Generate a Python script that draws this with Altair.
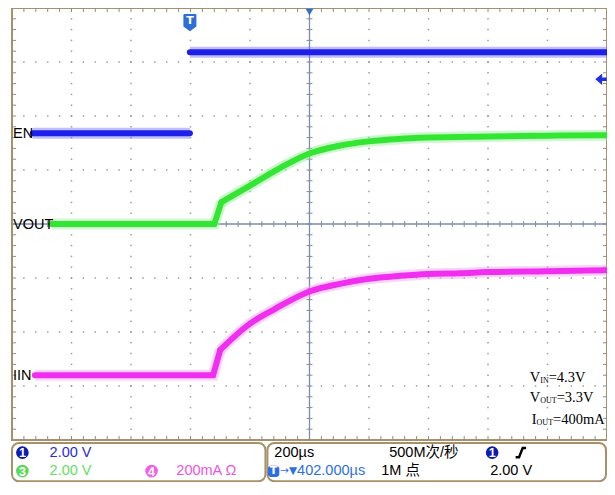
import altair as alt
import pandas as pd

T_PER_DIV = 200.0      # µs per division
T_CENTER = 402.0       # µs from trigger to screen centre
T_MIN = T_CENTER - 5 * T_PER_DIV
T_MAX = T_CENTER + 5 * T_PER_DIV

# channel 1 : EN (2.00 V/div)
EN_VDIV, EN_POS = 2.0, 1.68
en_low_t = [-528, 0]
en_low_v = [0.0, 0.0]
en_high_t = [0, 1402]
en_high_v = [3.0, 3.0]

# channel 3 : VOUT (2.00 V/div) - flat part up to the kink, then the soft-start curve
VO_VDIV, VO_POS = 2.0, 0.0
vout_t = [-465, 82, 106, 202, 302, 402, 502, 602, 702, 801, 1001, 1201, 1402]
vout_v = [0.0, 0.0, 0.81, 1.42, 2.07, 2.61, 2.90, 3.06, 3.15, 3.20, 3.24, 3.27, 3.29]
VO_KINK = 2   # index of the kink point

# channel 4 : IIN (200 mA/div)
II_VDIV, II_POS = 200.0, -2.80
iin_t = [-521, 78, 102, 202, 285, 402, 508, 602, 708, 801, 908, 1001, 1201, 1402]
iin_ma = [0, 0, 94, 191, 245, 310, 339, 357, 368, 375, 378, 382, 385, 389]
II_KINK = 2

trace_names = ["EN", "VOUT", "IIN"]
trace_pos = [EN_POS, VO_POS, II_POS]

# ---------------- styling ----------------
SANS = "Liberation Sans, Arial, Noto Sans CJK SC, sans-serif"
SERIF = "Liberation Serif, DejaVu Serif, serif"
GRID = "#8c8c8c"
AXIS = "#7b8bab"
BORDER = "#a8916a"
BLUE, BLUE_H = "#1f1fea", "#7070ff"
GREEN, GREEN_H = "#33e633", "#94f094"
MAG, MAG_H = "#f02ef0", "#f7a0f7"

W, H = 595, 432
SX = W / 601.0          # horizontal factor versus the reference
SY = H / 445.0          # vertical factor versus the reference


def px(x):   # reference page x -> view x
    return (x - 12) * SX


def py(y):   # reference page y -> view y
    return (y - 3) * SY


xs = alt.Scale(domain=[T_MIN, T_MAX], nice=False, zero=False)
ys = alt.Scale(domain=[-4, 4], nice=False, zero=False)
X = alt.X("t:Q", scale=xs, axis=None)
Y = alt.Y("d:Q", scale=ys, axis=None)
X2 = alt.X2("t2:Q")
Y2 = alt.Y2("d2:Q")

layers = []

# grid dots
dots = []
for i in range(1, 10):
    if i == 5:
        continue
    tx = T_MIN + i * T_PER_DIV
    for j in range(1, 40):
        dots.append({"t": tx, "d": -4 + j * 0.2})
for k in range(1, 8):
    yv = -4 + k
    if yv == 0:
        continue
    for m in range(1, 50):
        dots.append({"t": T_MIN + m * T_PER_DIV / 5, "d": yv})
layers.append(alt.Chart(pd.DataFrame(dots)).mark_square(size=2.2, color=GRID, opacity=0.85).encode(x=X, y=Y))

# tick marks on the border and on the centre cross
px_t = T_PER_DIV / (W / 10)
px_d = 1 / (H / 8)
ticks = []
for m in range(1, 50):
    tx = T_MIN + m * T_PER_DIV / 5
    ticks.append({"t": tx, "t2": tx, "d": -3 * px_d, "d2": 3 * px_d})
    ticks.append({"t": tx, "t2": tx, "d": 4, "d2": 4 - 4 * px_d})
    ticks.append({"t": tx, "t2": tx, "d": -4, "d2": -4 + 4 * px_d})
for j in range(1, 40):
    yv = -4 + j * 0.2
    ticks.append({"t": T_CENTER - 3 * px_t, "t2": T_CENTER + 3 * px_t, "d": yv, "d2": yv})
    ticks.append({"t": T_MIN, "t2": T_MIN + 4 * px_t, "d": yv, "d2": yv})
    ticks.append({"t": T_MAX - 4 * px_t, "t2": T_MAX, "d": yv, "d2": yv})
layers.append(alt.Chart(pd.DataFrame(ticks)).mark_rule(color=GRID, strokeWidth=1).encode(x=X, x2=X2, y=Y, y2=Y2))

# centre cross
cross = pd.DataFrame([
    {"t": T_MIN, "t2": T_MAX, "d": 0, "d2": 0},
    {"t": T_CENTER, "t2": T_CENTER, "d": -4, "d2": 4},
])
layers.append(alt.Chart(cross).mark_rule(color=AXIS, strokeWidth=1.3).encode(x=X, x2=X2, y=Y, y2=Y2))

# traces
en = pd.concat([
    pd.DataFrame({"t": en_low_t, "v": en_low_v, "seg": "low"}),
    pd.DataFrame({"t": en_high_t, "v": en_high_v, "seg": "high"}),
])
en["d"] = en["v"] / EN_VDIV + EN_POS
vo = pd.DataFrame({"t": vout_t, "v": vout_v})
vo["d"] = vo["v"] / VO_VDIV + VO_POS
ii = pd.DataFrame({"t": iin_t, "v": iin_ma})
ii["d"] = ii["v"] / II_VDIV + II_POS


def trace(df, core, halo, interp, detail=False):
    enc = dict(x=X, y=Y)
    if detail:
        enc["detail"] = "seg:N"
    return [
        alt.Chart(df).mark_line(color=halo, strokeWidth=11, opacity=0.45, interpolate=interp, strokeCap="butt").encode(**enc),
        alt.Chart(df).mark_line(color=core, strokeWidth=6, interpolate=interp, strokeCap="round").encode(**enc),
    ]


layers += trace(en, BLUE, BLUE_H, "linear", detail=True)
layers += trace(vo.iloc[:VO_KINK + 1], GREEN, GREEN_H, "linear")
layers += trace(vo.iloc[VO_KINK:], GREEN, GREEN_H, "monotone")
layers += trace(ii.iloc[:II_KINK + 1], MAG, MAG_H, "linear")
layers += trace(ii.iloc[II_KINK:], MAG, MAG_H, "monotone")

# trace labels
lab = pd.DataFrame({"name": trace_names, "d": trace_pos})
layers.append(alt.Chart(lab).mark_text(align="left", baseline="middle", font=SANS, fontSize=14.5, color="black", dy=1)
              .encode(x=alt.value(1), y=Y, text="name:N"))

# trigger position badge "T"
badge_path = "M-0.6,-1 L0.6,-1 Q0.75,-1 0.75,-0.85 L0.75,0.45 L0,1 L-0.75,0.45 L-0.75,-0.85 Q-0.75,-1 -0.6,-1 Z"
tb = pd.DataFrame({"t": [0.0], "d": [3.73]})
layers.append(alt.Chart(tb).mark_point(shape=badge_path, filled=True, color="#2d6fd6", opacity=1, size=300).encode(x=X, y=Y))
layers.append(alt.Chart(tb).mark_text(text="T", font="DejaVu Sans", fontWeight="bold", fontSize=11, color="white", dy=-2).encode(x=X, y=Y))

# horizontal position marker at the top centre
hp = pd.DataFrame({"t": [T_CENTER], "d": [4 - 4 * px_d]})
layers.append(alt.Chart(hp).mark_point(shape="triangle-down", filled=True, color="#2d6fd6", opacity=1, size=60).encode(x=X, y=Y))

# trigger level arrow on the right edge
arrow_path = "M-1,0 L0.2,-1 L0.2,-0.3 L1,-0.3 L1,0.3 L0.2,0.3 L0.2,1 Z"
tl = pd.DataFrame({"t": [T_MAX - 6 * px_t], "d": [2.68]})
layers.append(alt.Chart(tl).mark_point(shape=arrow_path, filled=True, color="#2030e0", opacity=1, size=130).encode(x=X, y=Y))

one = pd.DataFrame({"a": [0]})


def txt(s, x, y, color="black", size=14.5, font=SANS, align="left", weight="normal"):
    return alt.Chart(one).mark_text(text=s, align=align, baseline="middle", font=font, fontSize=size,
                                    color=color, fontWeight=weight).encode(x=alt.value(x), y=alt.value(y))


# test-condition annotation
FS, FSUB = 14.5, 8
for main, sub, rest, x0, y0 in [("V", "IN", "=4.3V", px(535), py(384)),
                                ("V", "OUT", "=3.3V", px(535), py(405)),
                                ("I", "OUT", "=400mA", px(537), py(427.5))]:
    layers.append(txt(main, x0, y0, size=FS, font=SERIF))
    xsub = x0 + (0.722 if main == "V" else 0.333) * FS
    layers.append(txt(sub, xsub, y0 + 3, size=FSUB, font=SERIF))
    wsub = (0.333 + 0.722) * FSUB if sub == "IN" else (0.722 * 2 + 0.611) * FSUB
    layers.append(txt(rest, xsub + wsub, y0, size=FS, font=SERIF))

# bottom information panel
for x1, x2 in [(px(12), px(268)), (px(270), px(612))]:
    layers.append(alt.Chart(one).mark_rect(fill="white", stroke=BORDER, strokeWidth=2, cornerRadius=7)
                  .encode(x=alt.value(x1), x2=alt.value(x2), y=alt.value(py(451)), y2=alt.value(py(490.5))))

R1, R2 = py(461), py(480)
for num, bx, by, col in [("1", px(22.5), R1, "#0b1bb0"), ("3", px(22.5), R2, "#5ad85a"),
                         ("4", px(153), R2, "#f060e8"), ("1", px(497), R1, "#0b1bb0")]:
    layers.append(alt.Chart(one).mark_point(shape="circle", filled=True, color=col, opacity=1, size=160)
                  .encode(x=alt.value(bx), y=alt.value(by)))
    layers.append(txt(num, bx, by + 0.5, color="white", size=12.5, align="center", weight="bold"))

layers.append(txt("2.00 V", px(50), R1, color="#2b2bd6"))
layers.append(txt("2.00 V", px(50), R2, color="#66dd66"))
layers.append(txt("200mA Ω", px(178), R2, color="#ee55dd"))
layers.append(txt("200µs", px(277), R1))
layers.append(txt("500M次/秒", px(393), R1))
layers.append(txt("1M 点", px(385), R2))
layers.append(txt("2.00 V", px(495), R2))

# rising-edge trigger symbol
edge_path = "M-1,0.9 L-0.35,0.9 L0.35,-0.9 L1,-0.9"
layers.append(alt.Chart(one).mark_point(shape=edge_path, filled=False, color="black", strokeWidth=2.5, opacity=1, size=110)
              .encode(x=alt.value(px(526)), y=alt.value(R1)))

# trigger position row
layers.append(alt.Chart(one).mark_rect(fill="#2f6fe6", cornerRadius=3)
              .encode(x=alt.value(px(270.5)), x2=alt.value(px(282)), y=alt.value(py(474.5)), y2=alt.value(py(486))))
layers.append(txt("T", px(276.2), R2, color="white", size=11, font="DejaVu Sans", align="center", weight="bold"))
layers.append(txt("→▼", px(283), R2, color="#2f6fe6", size=10.5, font="DejaVu Sans"))
layers.append(txt("402.000µs", px(300), R2, color="#2f6fe6"))

chart = alt.layer(*layers).properties(
    width=W, height=H,
    padding={"left": 4, "top": 0, "right": 0, "bottom": 42},
    autosize=alt.AutoSizeParams(type="none"),
    background="white",
).configure_view(stroke=BORDER, strokeWidth=2, fill="white")

chart.save("out.html", embed_options={"renderer": "svg", "actions": False})
